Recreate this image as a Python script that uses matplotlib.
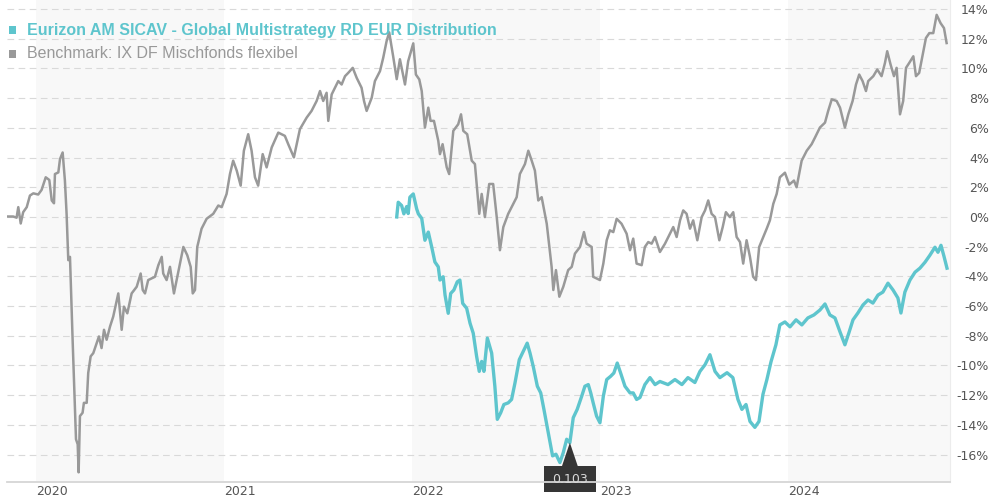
import matplotlib
matplotlib.use('Agg')
import matplotlib.pyplot as plt
from matplotlib.patches import Rectangle, Polygon
from matplotlib.transforms import blended_transform_factory

# time axis in decimal years, values in % performance
years = [2020, 2021, 2022, 2023, 2024]
y_ticks = list(range(-16, 15, 2))

bench_t = [
    2019.844, 2019.879, 2019.897, 2019.906, 2019.919, 2019.932, 2019.951, 2019.968, 2019.986, 2020.012,
    2020.030, 2020.052, 2020.071, 2020.084, 2020.096, 2020.101, 2020.119, 2020.128, 2020.142, 2020.154,
    2020.163, 2020.172, 2020.181, 2020.195, 2020.213, 2020.222, 2020.227, 2020.234, 2020.248, 2020.255,
    2020.270, 2020.278, 2020.291, 2020.305, 2020.323, 2020.335, 2020.349, 2020.362, 2020.376, 2020.394,
    2020.411, 2020.438, 2020.456, 2020.468, 2020.486, 2020.509, 2020.536, 2020.557, 2020.568, 2020.580,
    2020.597, 2020.633, 2020.651, 2020.669, 2020.677, 2020.695, 2020.713, 2020.734, 2020.766, 2020.784,
    2020.805, 2020.823, 2020.834, 2020.846, 2020.858, 2020.881, 2020.908, 2020.943, 2020.970, 2020.988,
    2021.014, 2021.032, 2021.049, 2021.068, 2021.089, 2021.106, 2021.129, 2021.147, 2021.165, 2021.182,
    2021.206, 2021.227, 2021.254, 2021.289, 2021.324, 2021.342, 2021.372, 2021.404, 2021.440, 2021.466,
    2021.493, 2021.511, 2021.528, 2021.546, 2021.555, 2021.573, 2021.608, 2021.626, 2021.644, 2021.661,
    2021.685, 2021.706, 2021.732, 2021.745, 2021.759, 2021.786, 2021.803, 2021.830, 2021.847, 2021.865,
    2021.879, 2021.900, 2021.919, 2021.936, 2021.963, 2021.980, 2022.007, 2022.021, 2022.039, 2022.052,
    2022.069, 2022.087, 2022.099, 2022.117, 2022.140, 2022.149, 2022.163, 2022.185, 2022.198, 2022.220,
    2022.246, 2022.261, 2022.273, 2022.294, 2022.318, 2022.335, 2022.358, 2022.371, 2022.388, 2022.411,
    2022.432, 2022.451, 2022.468, 2022.486, 2022.512, 2022.530, 2022.557, 2022.574, 2022.601, 2022.619,
    2022.637, 2022.654, 2022.672, 2022.690, 2022.717, 2022.743, 2022.752, 2022.766, 2022.784, 2022.805,
    2022.831, 2022.850, 2022.867, 2022.894, 2022.915, 2022.929, 2022.956, 2022.964, 2023.000, 2023.018,
    2023.036, 2023.053, 2023.071, 2023.089, 2023.115, 2023.142, 2023.160, 2023.177, 2023.195, 2023.222,
    2023.239, 2023.257, 2023.275, 2023.293, 2023.319, 2023.346, 2023.372, 2023.390, 2023.408, 2023.426,
    2023.443, 2023.461, 2023.479, 2023.496, 2023.518, 2023.541, 2023.559, 2023.576, 2023.594, 2023.612,
    2023.635, 2023.653, 2023.670, 2023.691, 2023.709, 2023.727, 2023.745, 2023.762, 2023.780, 2023.798,
    2023.815, 2023.830, 2023.847, 2023.869, 2023.887, 2023.904, 2023.922, 2023.940, 2023.957, 2023.984,
    2024.007, 2024.032, 2024.046, 2024.073, 2024.100, 2024.126, 2024.144, 2024.170, 2024.197, 2024.214,
    2024.233, 2024.259, 2024.277, 2024.303, 2024.321, 2024.344, 2024.362, 2024.379, 2024.397, 2024.415,
    2024.427, 2024.454, 2024.475, 2024.498, 2024.516, 2024.528, 2024.546, 2024.564, 2024.578, 2024.596,
    2024.613, 2024.628, 2024.645, 2024.667, 2024.681, 2024.698, 2024.717, 2024.734, 2024.752, 2024.773,
    2024.791, 2024.812, 2024.830, 2024.844,
]
bench_v = [
    0.03, 0.03, -0.05, 0.66, -0.44, 0.32, 0.66, 1.44, 1.59, 1.51,
    1.82, 2.67, 2.49, 1.11, 0.92, 2.89, 3.00, 3.90, 4.34, 2.45,
    0.21, -2.91, -2.69, -8.27, -14.97, -15.31, -17.20, -13.41, -13.19, -12.52,
    -12.52, -10.51, -9.39, -9.17, -8.50, -8.05, -8.83, -7.60, -8.27, -7.38,
    -6.71, -5.15, -7.60, -6.04, -6.49, -5.15, -4.70, -3.81, -4.92, -5.15,
    -4.25, -4.03, -3.25, -2.69, -3.81, -4.25, -3.36, -5.15, -3.14, -2.02,
    -2.58, -3.36, -5.15, -4.92, -2.02, -0.79, -0.12, 0.21, 0.77, 0.66,
    1.55, 2.89, 3.79, 3.12, 2.11, 4.46, 5.57, 4.46, 2.67, 2.11,
    4.23, 3.34, 4.68, 5.68, 5.46, 4.90, 4.01, 5.91, 6.69, 7.14,
    7.81, 8.48, 7.81, 8.36, 6.47, 8.25, 9.15, 8.92, 9.48, 9.70,
    10.04, 9.37, 8.70, 7.81, 7.14, 8.03, 9.15, 9.82, 10.71, 11.83,
    12.43, 10.82, 9.28, 10.62, 8.92, 10.49, 11.69, 9.59, 9.26, 8.48,
    6.02, 7.36, 6.47, 6.47, 5.13, 4.23, 4.90, 3.34, 2.89, 5.80,
    6.24, 6.91, 5.80, 5.57, 3.79, 3.56, 0.21, 1.55, -0.01, 2.22,
    2.22, -0.01, -2.24, -0.68, 0.21, 0.66, 1.33, 2.89, 3.56, 4.46,
    3.79, 3.12, 1.11, 1.33, -0.46, -3.36, -4.92, -3.58, -5.37, -4.70,
    -3.58, -3.36, -2.47, -2.02, -1.02, -1.80, -2.02, -4.03, -4.25, -3.14,
    -1.57, -0.90, -1.02, -0.12, -0.46, -1.13, -2.24, -1.46, -3.14, -3.25,
    -2.02, -1.69, -1.80, -1.35, -2.36, -1.80, -1.13, -0.68, -1.35, -0.23,
    0.44, 0.21, -0.79, -0.23, -1.57, -0.01, 0.44, 1.11, 0.21, -0.01,
    -1.57, -0.68, 0.32, -0.01, 0.32, -1.35, -1.69, -3.14, -1.57, -2.69,
    -4.03, -4.25, -2.02, -1.35, -0.79, -0.23, 0.88, 1.55, 2.67, 2.98,
    2.18, 2.45, 2.00, 3.79, 4.46, 4.90, 5.35, 6.02, 6.35, 7.14,
    7.92, 7.81, 7.36, 6.02, 6.91, 7.81, 8.92, 9.59, 9.15, 8.48,
    9.15, 9.48, 9.93, 9.48, 10.37, 11.16, 10.26, 9.48, 10.04, 6.91,
    7.81, 10.04, 10.37, 10.82, 9.48, 9.70, 10.93, 12.05, 12.38, 12.38,
    13.61, 13.05, 12.72, 11.71,
]

fund_t = [
    2021.919, 2021.927, 2021.945, 2021.957, 2021.972, 2021.980, 2021.989, 2022.007, 2022.025, 2022.034,
    2022.052, 2022.069, 2022.087, 2022.105, 2022.122, 2022.140, 2022.149, 2022.166, 2022.176, 2022.193,
    2022.206, 2022.223, 2022.241, 2022.255, 2022.270, 2022.291, 2022.309, 2022.326, 2022.344, 2022.358,
    2022.371, 2022.383, 2022.401, 2022.424, 2022.441, 2022.454, 2022.472, 2022.489, 2022.512, 2022.530,
    2022.548, 2022.571, 2022.592, 2022.613, 2022.628, 2022.645, 2022.667, 2022.685, 2022.702, 2022.725,
    2022.748, 2022.766, 2022.787, 2022.805, 2022.823, 2022.840, 2022.858, 2022.879, 2022.903, 2022.920,
    2022.938, 2022.951, 2022.964, 2022.982, 2023.000, 2023.018, 2023.036, 2023.057, 2023.074, 2023.092,
    2023.110, 2023.133, 2023.160, 2023.177, 2023.195, 2023.213, 2023.239, 2023.266, 2023.293, 2023.319,
    2023.362, 2023.399, 2023.436, 2023.468, 2023.505, 2023.532, 2023.559, 2023.585, 2023.612, 2023.638,
    2023.676, 2023.707, 2023.734, 2023.755, 2023.777, 2023.798, 2023.824, 2023.846, 2023.867, 2023.888,
    2023.910, 2023.936, 2023.957, 2023.984, 2024.011, 2024.043, 2024.074, 2024.106, 2024.138, 2024.170,
    2024.197, 2024.223, 2024.250, 2024.277, 2024.303, 2024.324, 2024.346, 2024.372, 2024.399, 2024.426,
    2024.452, 2024.479, 2024.505, 2024.532, 2024.559, 2024.585, 2024.601, 2024.622, 2024.649, 2024.676,
    2024.702, 2024.729, 2024.755, 2024.782, 2024.798, 2024.814, 2024.830, 2024.846,
]
fund_v = [
    0.00, 0.99, 0.77, 0.21, 0.70, 0.23, 1.33, 1.55, 0.55, 0.21,
    -0.10, -1.57, -1.02, -2.02, -3.03, -3.36, -4.25, -4.03, -5.26, -6.49,
    -5.15, -4.92, -4.37, -4.25, -5.82, -6.15, -7.16, -7.83, -9.39, -10.40,
    -9.73, -10.40, -8.16, -9.17, -11.40, -13.63, -13.19, -12.63, -12.52, -12.29,
    -11.18, -9.61, -9.06, -8.50, -9.17, -10.06, -11.40, -11.85, -12.96, -14.53,
    -16.09, -15.98, -16.54, -15.87, -14.97, -15.20, -13.52, -12.96, -12.07, -11.40,
    -11.29, -11.85, -12.52, -13.41, -13.86, -12.07, -10.95, -10.73, -10.51, -9.84,
    -10.51, -11.40, -11.85, -11.85, -12.29, -12.16, -11.29, -10.82, -11.29, -11.08,
    -11.29, -10.95, -11.29, -10.82, -11.15, -10.40, -9.95, -9.28, -10.40, -10.82,
    -10.49, -10.82, -12.29, -12.96, -12.63, -13.77, -14.17, -13.77, -11.95, -10.95,
    -9.75, -8.61, -7.27, -7.07, -7.40, -6.93, -7.27, -6.80, -6.60, -6.27,
    -5.86, -6.60, -6.80, -7.74, -8.61, -7.81, -6.93, -6.47, -5.93, -5.59,
    -5.80, -5.26, -5.06, -4.46, -4.92, -5.46, -6.47, -5.06, -4.25, -3.72,
    -3.45, -3.05, -2.58, -2.04, -2.38, -1.91, -2.65, -3.45,
]

tooltip_t = 2022.840
tooltip_label = '0.103'

fund_name = 'Eurizon AM SICAV - Global Multistrategy RD EUR Distribution'
bench_name = 'Benchmark: IX DF Mischfonds flexibel'

TEAL = '#5ec5cd'
GREY = '#999999'
W, H = 990, 500

assert len(bench_t) == len(bench_v), (len(bench_t), len(bench_v))
assert len(fund_t) == len(fund_v), (len(fund_t), len(fund_v))

fig = plt.figure(figsize=(W / 100, H / 100), dpi=100)
ax = fig.add_axes([7 / W, 18 / H, 943 / W, 482 / H])
ax.set_xlim(2019.846, 2024.862)
ax.set_ylim(-17.85, 14.61)

# alternating year bands
for yr in years[::2]:
    ax.axvspan(yr, yr + 1, color='#f8f8f8', lw=0, zorder=0)

for t in y_ticks:
    ax.axhline(t, color='#d9d9d9', lw=0.8, dashes=(6, 4), zorder=1)

ax.plot(bench_t, bench_v, color=GREY, lw=1.8, zorder=2, solid_joinstyle='round')
ax.plot(fund_t, fund_v, color=TEAL, lw=2.4, zorder=2.1, solid_joinstyle='round')

# axes styling
for side in ['left', 'top']:
    ax.spines[side].set_visible(False)
ax.spines['right'].set_color('#ececec')
ax.spines['right'].set_linewidth(0.8)
ax.spines['bottom'].set_color('#d6d6d6')
ax.spines['bottom'].set_linewidth(1.3)
ax.spines['bottom'].set_zorder(4)

ax.yaxis.tick_right()
ax.set_yticks(y_ticks)
ax.set_yticklabels([f'{t}%' for t in y_ticks])
ax.tick_params(axis='y', length=0, pad=28, labelsize=9, labelcolor='#555555')
for lab in ax.get_yticklabels():
    lab.set_horizontalalignment('right')

ax.set_xticks(years)
ax.set_xticklabels([str(y) for y in years])
ax.tick_params(axis='x', length=0, pad=2, labelsize=9, labelcolor='#555555')
for lab in ax.get_xticklabels():
    lab.set_horizontalalignment('left')

# tooltip at the fund's low
tip_v = fund_v[fund_t.index(tooltip_t)]
tr = blended_transform_factory(ax.transData, ax.transAxes)
apex_y = ax.transAxes.inverted().transform(ax.transData.transform((tooltip_t, tip_v)))[1]
box = Rectangle((tooltip_t - 0.136, -0.021), 0.275, 0.054, transform=tr,
                facecolor='#353535', edgecolor='none', clip_on=False, zorder=3)
ax.add_patch(box)
tri = Polygon([(tooltip_t - 0.042, 0.033), (tooltip_t + 0.042, 0.033), (tooltip_t, apex_y)],
              closed=True, transform=tr, facecolor='#353535', edgecolor='none',
              clip_on=False, zorder=3)
ax.add_patch(tri)
ax.text(tooltip_t, 0.006, tooltip_label, transform=tr, ha='center', va='center',
        fontsize=9, color='#d8d8d8', zorder=3.5, clip_on=False)

# legend
fig.add_artist(Rectangle((9 / W, 1 - 34 / H), 7 / W, 8 / H, transform=fig.transFigure,
                         facecolor=TEAL, edgecolor='none'))
fig.add_artist(Rectangle((9 / W, 1 - 58 / H), 7 / W, 8 / H, transform=fig.transFigure,
                         facecolor='#999999', edgecolor='none'))
fig.text(27 / W, 1 - 30 / H, fund_name, ha='left', va='center', fontsize=11.5,
         fontweight='bold', color=TEAL, family='Liberation Sans')
fig.text(27 / W, 1 - 54 / H, bench_name, ha='left', va='center', fontsize=11.5,
         color='#999999', family='Liberation Sans')

fig.savefig('out.png', dpi=100)
